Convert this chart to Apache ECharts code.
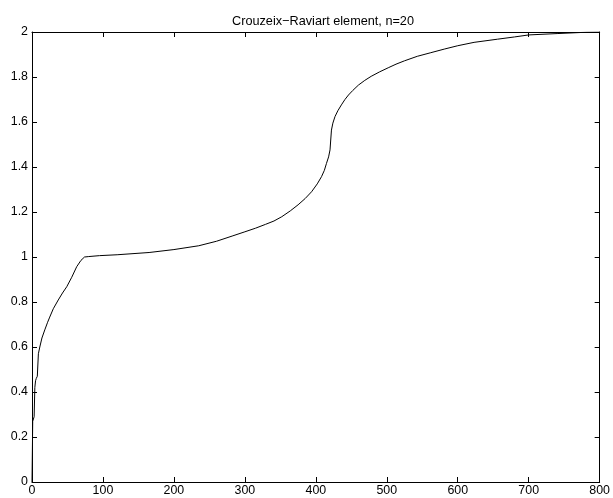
<!DOCTYPE html>
<html>
<head>
<meta charset="utf-8">
<script src="https://cdn.jsdelivr.net/npm/echarts@6/dist/echarts.min.js"></script>
<style>
html,body{margin:0;padding:0;background:#fff;}
#chart{width:613px;height:498px;}
</style>
</head>
<body>
<div id="chart"></div>
<script>
var titleText = "Crouzeix\u2212Raviart element, n=20";
var xTicks = [0, 100, 200, 300, 400, 500, 600, 700, 800];
var yTicks = [0, 0.2, 0.4, 0.6, 0.8, 1, 1.2, 1.4, 1.6, 1.8, 2];
var xs = [0, 1, 2, 3, 4, 5, 6, 7.5, 9, 11, 14, 18, 22, 25, 30, 37, 43, 49, 56, 63, 69, 74, 80, 95, 120, 165, 200, 235, 260, 282, 300, 315, 329, 341, 352, 364, 375, 385, 394, 402, 408, 412, 415, 418, 420, 421, 422, 424, 427, 431, 436, 441, 446, 452, 460, 469, 478, 490, 502, 513, 525, 543, 562, 581, 600, 623, 656, 680, 700, 740, 782, 800];
var ys = [0, 0.27, 0.276, 0.29, 0.42, 0.45, 0.46, 0.47, 0.57, 0.6, 0.64, 0.676, 0.71, 0.733, 0.77, 0.809, 0.84, 0.868, 0.91, 0.957, 0.985, 1.0, 1.002, 1.006, 1.01, 1.02, 1.033, 1.05, 1.07, 1.093, 1.112, 1.128, 1.145, 1.16, 1.179, 1.205, 1.232, 1.26, 1.29, 1.325, 1.357, 1.385, 1.416, 1.445, 1.476, 1.52, 1.564, 1.595, 1.624, 1.65, 1.676, 1.70, 1.72, 1.74, 1.764, 1.785, 1.803, 1.823, 1.841, 1.857, 1.872, 1.892, 1.908, 1.924, 1.939, 1.954, 1.968, 1.978, 1.987, 1.993, 1.999, 2.0];

var points = xs.map(function (x, i) { return [x, ys[i]]; });
var font = "Liberation Sans, Arial, Helvetica, sans-serif";

function axisBase(showLabel, pos) {
  return {
    axisLine: { show: true, onZero: false, lineStyle: { color: '#000', width: 1 } },
    axisTick: { show: true, inside: true, length: 5, lineStyle: { color: '#000', width: 1 } },
    splitLine: { show: false },
    axisLabel: { show: showLabel, color: '#000', fontSize: 12.4, fontFamily: font, margin: 4 },
    position: pos
  };
}

var xb = axisBase(true, 'bottom');
Object.assign(xb, { type: 'value', min: xTicks[0], max: xTicks[xTicks.length - 1], interval: 100 });
var xt = axisBase(false, 'top');
Object.assign(xt, { type: 'value', min: xTicks[0], max: xTicks[xTicks.length - 1], interval: 100 });
var yl = axisBase(true, 'left');
Object.assign(yl, { type: 'value', min: yTicks[0], max: yTicks[yTicks.length - 1], interval: 0.2 });
var yr = axisBase(false, 'right');
Object.assign(yr, { type: 'value', min: yTicks[0], max: yTicks[yTicks.length - 1], interval: 0.2 });
xb.axisLabel.margin = 3;

var chart = echarts.init(document.getElementById('chart'), null, { renderer: 'canvas' });
chart.setOption({
  animation: false,
  backgroundColor: '#fff',
  title: {
    text: titleText,
    left: 318, top: 10, textAlign: 'center',
    textStyle: { color: '#000', fontSize: 12.7, fontWeight: 'normal', fontFamily: font }
  },
  grid: { left: 32, right: 10, top: 32, bottom: 16, containLabel: false },
  xAxis: [xb, xt],
  yAxis: [yl, yr],
  series: [{
    type: 'line',
    data: points,
    xAxisIndex: 0,
    yAxisIndex: 0,
    showSymbol: false,
    symbol: 'none',
    lineStyle: { color: '#000', width: 1 },
    itemStyle: { color: '#000' }
  }]
});
</script>
</body>
</html>
